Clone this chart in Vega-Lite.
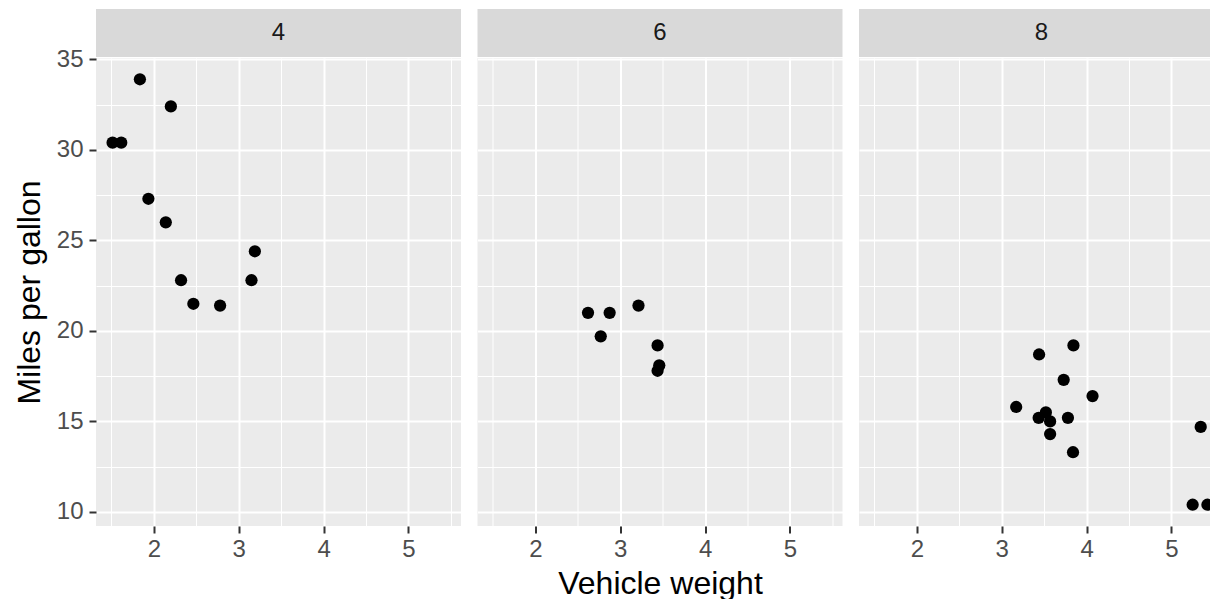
{
  "$schema": "https://vega.github.io/schema/vega-lite/v6.json",
  "padding": {"left": 13, "top": 9, "right": 0, "bottom": 0},
  "background": "#FFFFFF",
  "datasets": {
    "cars": [
      {"cyl": 6, "wt": 2.620, "mpg": 21.0},
      {"cyl": 6, "wt": 2.875, "mpg": 21.0},
      {"cyl": 4, "wt": 2.320, "mpg": 22.8},
      {"cyl": 6, "wt": 3.215, "mpg": 21.4},
      {"cyl": 8, "wt": 3.440, "mpg": 18.7},
      {"cyl": 6, "wt": 3.460, "mpg": 18.1},
      {"cyl": 8, "wt": 3.570, "mpg": 14.3},
      {"cyl": 4, "wt": 3.190, "mpg": 24.4},
      {"cyl": 4, "wt": 3.150, "mpg": 22.8},
      {"cyl": 6, "wt": 3.440, "mpg": 19.2},
      {"cyl": 6, "wt": 3.440, "mpg": 17.8},
      {"cyl": 8, "wt": 4.070, "mpg": 16.4},
      {"cyl": 8, "wt": 3.730, "mpg": 17.3},
      {"cyl": 8, "wt": 3.780, "mpg": 15.2},
      {"cyl": 8, "wt": 5.250, "mpg": 10.4},
      {"cyl": 8, "wt": 5.424, "mpg": 10.4},
      {"cyl": 8, "wt": 5.345, "mpg": 14.7},
      {"cyl": 4, "wt": 2.200, "mpg": 32.4},
      {"cyl": 4, "wt": 1.615, "mpg": 30.4},
      {"cyl": 4, "wt": 1.835, "mpg": 33.9},
      {"cyl": 4, "wt": 2.465, "mpg": 21.5},
      {"cyl": 8, "wt": 3.520, "mpg": 15.5},
      {"cyl": 8, "wt": 3.435, "mpg": 15.2},
      {"cyl": 8, "wt": 3.840, "mpg": 13.3},
      {"cyl": 8, "wt": 3.845, "mpg": 19.2},
      {"cyl": 4, "wt": 1.935, "mpg": 27.3},
      {"cyl": 4, "wt": 2.140, "mpg": 26.0},
      {"cyl": 4, "wt": 1.513, "mpg": 30.4},
      {"cyl": 8, "wt": 3.170, "mpg": 15.8},
      {"cyl": 6, "wt": 2.770, "mpg": 19.7},
      {"cyl": 8, "wt": 3.570, "mpg": 15.0},
      {"cyl": 4, "wt": 2.780, "mpg": 21.4}
    ],
    "strips": [{"cyl": "4"}, {"cyl": "6"}, {"cyl": "8"}]
  },
  "hconcat": [
    {
      "spacing": 1,
      "bounds": "flush",
      "vconcat": [
        {
          "width": 365, "height": 48,
          "view": {"fill": "#D9D9D9", "stroke": null},
          "data": {"name": "strips"},
          "transform": [{"filter": "datum.cyl == '4'"}],
          "mark": {"type": "text", "fontSize": 24, "color": "#1A1A1A", "baseline": "middle", "align": "center"},
          "encoding": {"text": {"field": "cyl", "type": "nominal"}}
        },
        {
          "width": 365, "height": 468,
          "view": {"fill": "#EBEBEB", "stroke": null},
          "data": {"name": "cars"},
          "transform": [{"filter": "datum.cyl == 4"}],
          "mark": {"type": "circle", "size": 150, "color": "#000000", "opacity": 1, "clip": true},
          "encoding": {
            "x": {"field": "wt", "type": "quantitative",
              "scale": {"domain": [1.3175, 5.6195], "nice": false, "zero": false},
              "axis": {"values": [1.5, 2, 2.5, 3, 3.5, 4, 4.5, 5, 5.5], "title": null,
                "labelExpr": "datum.value % 1 === 0 ? format(datum.value, 'd') : ''",
                "gridWidth": {"condition": {"test": "datum.value % 1 !== 0", "value": 1}, "value": 2},
                "tickOpacity": {"condition": {"test": "datum.value % 1 !== 0", "value": 0}, "value": 1},
                "labelPadding": 4}},
            "y": {"field": "mpg", "type": "quantitative",
              "scale": {"domain": [9.225, 35.075], "nice": false, "zero": false},
              "axis": {"values": [10, 12.5, 15, 17.5, 20, 22.5, 25, 27.5, 30, 32.5, 35], "title": "Miles per gallon",
                "labelExpr": "datum.value % 5 === 0 ? format(datum.value, 'd') : ''",
                "gridWidth": {"condition": {"test": "datum.value % 5 !== 0", "value": 1}, "value": 2},
                "tickOpacity": {"condition": {"test": "datum.value % 5 !== 0", "value": 0}, "value": 1},
                "labelPadding": 6, "titlePadding": 10}}
          }
        }
      ]
    },
    {
      "spacing": 1,
      "bounds": "flush",
      "vconcat": [
        {
          "width": 365, "height": 48,
          "view": {"fill": "#D9D9D9", "stroke": null},
          "data": {"name": "strips"},
          "transform": [{"filter": "datum.cyl == '6'"}],
          "mark": {"type": "text", "fontSize": 24, "color": "#1A1A1A", "baseline": "middle", "align": "center"},
          "encoding": {"text": {"field": "cyl", "type": "nominal"}}
        },
        {
          "width": 365, "height": 468,
          "view": {"fill": "#EBEBEB", "stroke": null},
          "data": {"name": "cars"},
          "transform": [{"filter": "datum.cyl == 6"}],
          "mark": {"type": "circle", "size": 150, "color": "#000000", "opacity": 1, "clip": true},
          "encoding": {
            "x": {"field": "wt", "type": "quantitative",
              "scale": {"domain": [1.3175, 5.6195], "nice": false, "zero": false},
              "axis": {"values": [1.5, 2, 2.5, 3, 3.5, 4, 4.5, 5, 5.5], "title": "Vehicle weight",
                "labelExpr": "datum.value % 1 === 0 ? format(datum.value, 'd') : ''",
                "gridWidth": {"condition": {"test": "datum.value % 1 !== 0", "value": 1}, "value": 2},
                "tickOpacity": {"condition": {"test": "datum.value % 1 !== 0", "value": 0}, "value": 1},
                "labelPadding": 4, "titlePadding": 7}},
            "y": {"field": "mpg", "type": "quantitative",
              "scale": {"domain": [9.225, 35.075], "nice": false, "zero": false},
              "axis": {"values": [10, 12.5, 15, 17.5, 20, 22.5, 25, 27.5, 30, 32.5, 35], "title": null,
                "labels": false, "ticks": false,
                "gridWidth": {"condition": {"test": "datum.value % 5 !== 0", "value": 1}, "value": 2}}}
          }
        }
      ]
    },
    {
      "spacing": 1,
      "bounds": "flush",
      "vconcat": [
        {
          "width": 351, "height": 48,
          "view": {"fill": "#D9D9D9", "stroke": null},
          "data": {"name": "strips"},
          "transform": [{"filter": "datum.cyl == '8'"}],
          "mark": {"type": "text", "fontSize": 24, "color": "#1A1A1A", "baseline": "middle", "align": "center", "dx": 7},
          "encoding": {"text": {"field": "cyl", "type": "nominal"}}
        },
        {
          "width": 351, "height": 468,
          "view": {"fill": "#EBEBEB", "stroke": null},
          "data": {"name": "cars"},
          "transform": [{"filter": "datum.cyl == 8"}],
          "mark": {"type": "circle", "size": 150, "color": "#000000", "opacity": 1, "clip": true},
          "encoding": {
            "x": {"field": "wt", "type": "quantitative",
              "scale": {"domain": [1.3175, 5.4545], "nice": false, "zero": false},
              "axis": {"values": [1.5, 2, 2.5, 3, 3.5, 4, 4.5, 5], "title": null,
                "labelExpr": "datum.value % 1 === 0 ? format(datum.value, 'd') : ''",
                "gridWidth": {"condition": {"test": "datum.value % 1 !== 0", "value": 1}, "value": 2},
                "tickOpacity": {"condition": {"test": "datum.value % 1 !== 0", "value": 0}, "value": 1},
                "labelPadding": 4}},
            "y": {"field": "mpg", "type": "quantitative",
              "scale": {"domain": [9.225, 35.075], "nice": false, "zero": false},
              "axis": {"values": [10, 12.5, 15, 17.5, 20, 22.5, 25, 27.5, 30, 32.5, 35], "title": null,
                "labels": false, "ticks": false,
                "gridWidth": {"condition": {"test": "datum.value % 5 !== 0", "value": 1}, "value": 2}}}
          }
        }
      ]
    }
  ],
  "spacing": 16.5,
  "config": {
    "view": {"stroke": null},
    "font": "Liberation Sans",
    "axis": {
      "domain": false,
      "grid": true,
      "gridColor": "#FFFFFF",
      "gridOpacity": 1,
      "tickColor": "#333333",
      "tickSize": 7,
      "tickWidth": 2,
      "labelColor": "#4D4D4D",
      "labelFontSize": 24,
      "labelFont": "Liberation Sans",
      "titleFont": "Liberation Sans",
      "titleFontSize": 32,
      "titleFontWeight": "normal",
      "titleColor": "#000000"
    }
  }
}
